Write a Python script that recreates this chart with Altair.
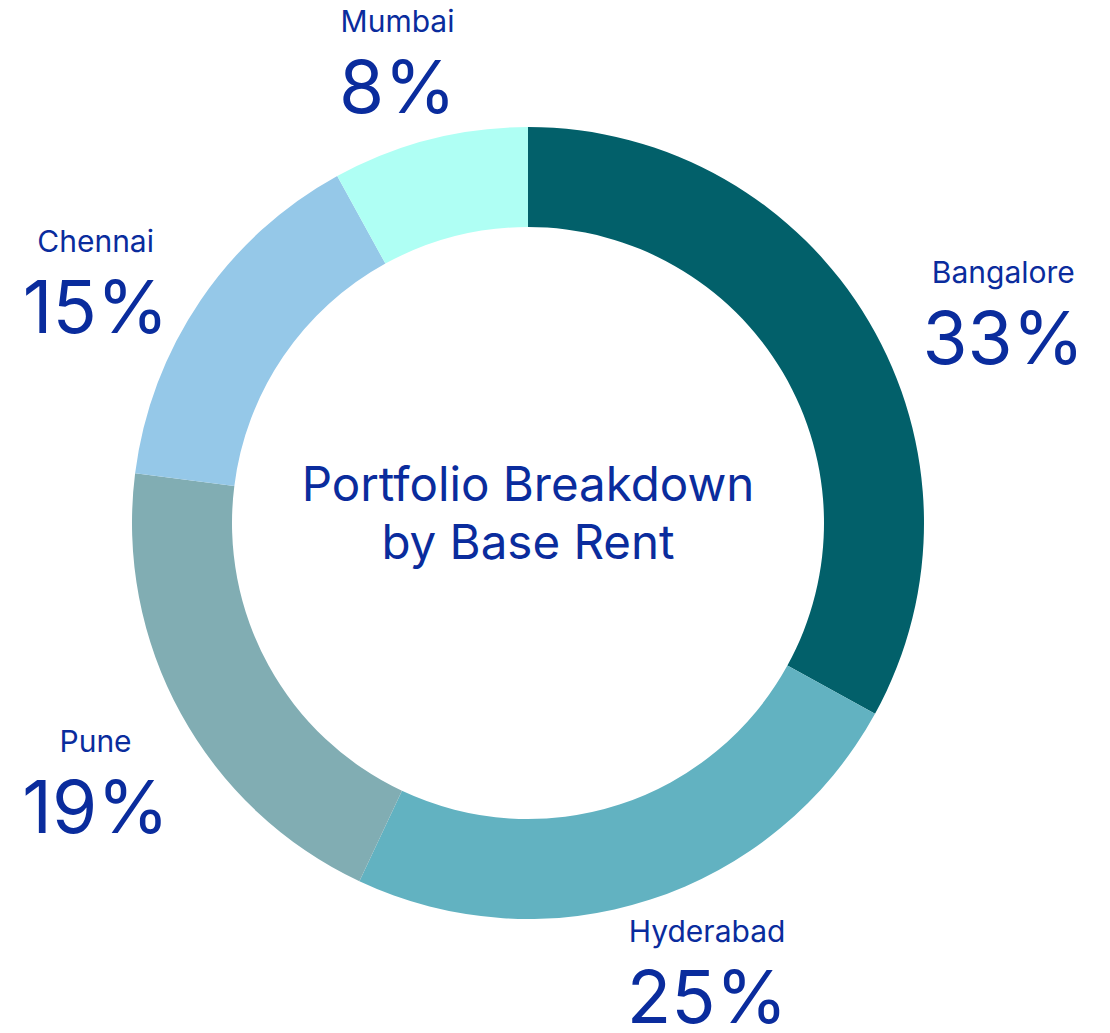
import altair as alt
import pandas as pd

cities = ["Bangalore", "Hyderabad", "Pune", "Chennai", "Mumbai"]
shares = [33, 24, 20, 15, 8]          # slice sizes as drawn
pct_labels = ["33%", "25%", "19%", "15%", "8%"]  # labels as printed
order = [1, 2, 3, 4, 5]
colors = ["#02606A", "#62B2C1", "#81ADB3", "#95C8E8", "#AFFFF4"]
title_lines = ["Portfolio Breakdown", "by Base Rent"]

df = pd.DataFrame({"city": cities, "share": shares, "idx": order, "pct": pct_labels})

TXT = "#0A2C9D"
FONT = "Inter"
CX, CY = 520, 515

arcs = alt.Chart(df).mark_arc(outerRadius=396, innerRadius=296, strokeWidth=0).encode(
    theta=alt.Theta("share:Q", stack=True),
    order=alt.Order("idx:Q"),
    x=alt.value(CX),
    y=alt.value(CY),
    color=alt.Color("city:N", scale=alt.Scale(domain=cities, range=colors), legend=None),
)

lbl = (
    alt.Chart(df)
    .transform_joinaggregate(total="sum(share)")
    .transform_window(cum="sum(share)", sort=[alt.SortField("idx")], frame=[None, 0])
    .transform_calculate(mid="datum.cum - datum.share / 2")
    .transform_calculate(s="sin(2 * PI * datum.mid / datum.total)")
    .transform_calculate(side="datum.s > 0.7 ? 'R' : (datum.s < -0.7 ? 'L' : 'M')")
    .encode(theta=alt.Theta("mid:Q", stack=None), x=alt.value(CX), y=alt.value(CY))
)

layers = []
for side, r, dx, dy0, toff in [("R", 450, 88, 11, 0), ("L", 479, -24, 1, -0.047), ("M", 481, 10, -9, -0.045)]:
    part = lbl.transform_filter(alt.datum.side == side)
    layers.append(
        part.mark_text(font=FONT, fontSize=30, color=TXT, baseline="middle", align="center",
                       dx=dx, dy=dy0 - 31, thetaOffset=toff).encode(radius=alt.value(r), text="city:N")
    )
    layers.append(
        part.mark_text(font=FONT, fontSize=73, color=TXT, baseline="middle", align="center",
                       dx=dx, dy=dy0 + 37, thetaOffset=toff).encode(radius=alt.value(r), text="pct:N")
    )

center = alt.Chart(pd.DataFrame({"t": [title_lines]})).mark_text(
    font=FONT, fontSize=47.5, color=TXT, align="center", baseline="middle", lineHeight=58
).encode(x=alt.value(CX), y=alt.value(CY - 36), text="t")

chart = alt.layer(arcs, *layers, center).properties(
    width=1090, height=1017, padding=0, autosize="none"
).configure_view(stroke=None)

chart.save("out.html", embed_options={"renderer": "svg", "actions": False})
